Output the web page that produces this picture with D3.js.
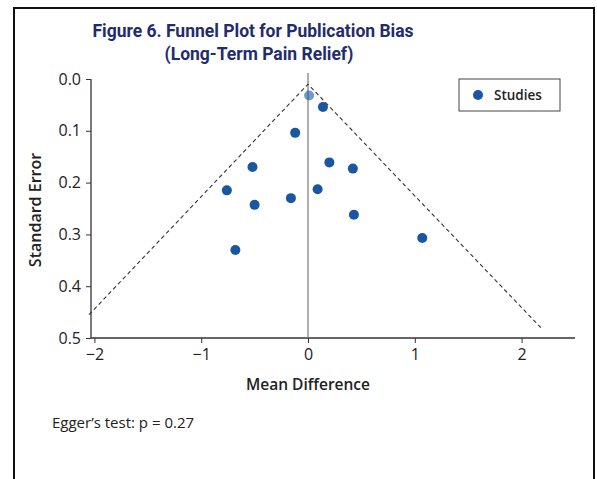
<!DOCTYPE html>
<html>
<head>
<meta charset="utf-8">
<script src="https://cdn.jsdelivr.net/npm/d3@7"></script>
<style>
  body { margin: 0; background: #fff; }
  text { font-family: "Open Sans", "Noto Sans", sans-serif; }
  .title { font-family: Roboto, "Noto Sans", sans-serif; }
</style>
</head>
<body>
<script>
// study effects (mean difference) and their standard errors
const meanDiff = [0.01, 0.14, -0.12, -0.52, -0.76, -0.50, -0.16, -0.68, 0.09, 0.20, 0.42, 0.43, 1.07];
const stdErr   = [0.032, 0.054, 0.104, 0.170, 0.215, 0.243, 0.230, 0.330, 0.213, 0.161, 0.173, 0.262, 0.307];

// funnel outline: left end, apex, right end
const funnelX = [-2.05, 0, 2.18];
const funnelY = [0.455, 0.01, 0.48];

const xTicks = [-2, -1, 0, 1, 2];
const yTicks = [0, 0.1, 0.2, 0.3, 0.4, 0.5];

const width = 597;
const height = 479;
const margin = {left: 91, right: 22, top: 79, bottom: 141};
const navy = '#1f2c6e';
const blue = '#1a57a3';

let svg = d3.select('body')
            .append('svg')
            .attr('width', width)
            .attr('height', height);

// outer frame
svg.append('rect')
   .attr('x', 14).attr('y', 8)
   .attr('width', 580).attr('height', 500)
   .attr('fill', 'none')
   .attr('stroke', '#111')
   .attr('stroke-width', 2);

let x = d3.scaleLinear()
          .domain([-2.06, 2.5])
          .range([margin.left - 3, width - margin.right]);

let y = d3.scaleLinear()
          .domain([0, 0.5])
          .range([margin.top, height - margin.bottom]);

// title
svg.append('text')
   .attr('class', 'title')
   .attr('x', 253).attr('y', 37)
   .attr('text-anchor', 'middle')
   .attr('fill', navy)
   .style('font-size', '17.5px')
   .style('font-weight', 'bold')
   .text('Figure 6. Funnel Plot for Publication Bias');
svg.append('text')
   .attr('class', 'title')
   .attr('x', 259).attr('y', 60)
   .attr('text-anchor', 'middle')
   .attr('fill', navy)
   .style('font-size', '17.5px')
   .style('font-weight', 'bold')
   .text('(Long-Term Pain Relief)');

// axes
let xAxis = svg.append('g')
   .attr('transform', 'translate(0,' + y(0.5) + ')')
   .call(d3.axisBottom(x).tickValues(xTicks).tickSize(5).tickPadding(6)
           .tickFormat(d => d < 0 ? '\u2212' + Math.abs(d) : d));

let yAxis = svg.append('g')
   .attr('transform', 'translate(' + margin.left + ',0)')
   .call(d3.axisLeft(y).tickValues(yTicks).tickSize(5).tickPadding(5).tickFormat(d3.format('.1f')));

[xAxis, yAxis].forEach(g => {
    g.select('.domain').attr('stroke', '#333').attr('stroke-width', 1.3);
    g.selectAll('.tick line').attr('stroke', '#333');
    g.selectAll('.tick text')
     .attr('fill', '#222')
     .style('font-size', '16px');
});
xAxis.select('.domain').attr('d', 'M' + margin.left + ',0H' + (width - margin.right));
yAxis.select('.domain').attr('d', 'M0,' + y(0) + 'V' + y(0.5));

// zero line
svg.append('line')
   .attr('x1', x(0)).attr('x2', x(0))
   .attr('y1', y(0) - 6).attr('y2', y(0.5))
   .attr('stroke', '#777')
   .attr('stroke-width', 1.2);

// funnel
let funnel = funnelX.map((d, i) => [d, funnelY[i]]);
svg.append('path')
   .datum(funnel)
   .attr('d', d3.line().x(d => x(d[0])).y(d => y(d[1])))
   .attr('fill', 'none')
   .attr('stroke', '#333')
   .attr('stroke-width', 1.1)
   .attr('stroke-dasharray', '4,3');

// studies
svg.selectAll('circle.study')
   .data(meanDiff)
   .enter()
   .append('circle')
   .attr('class', 'study')
   .attr('cx', d => x(d))
   .attr('cy', (d, i) => y(stdErr[i]))
   .attr('r', 5)
   .attr('fill', blue)
   .attr('opacity', (d, i) => i == 0 ? 0.6 : 1);

// axis labels
svg.append('text')
   .attr('x', x(0)).attr('y', 390)
   .attr('text-anchor', 'middle')
   .attr('fill', '#222')
   .style('font-size', '15.5px')
   .style('font-weight', '600')
   .text('Mean Difference');

svg.append('text')
   .attr('transform', 'translate(41,210) rotate(-90)')
   .attr('text-anchor', 'middle')
   .attr('fill', '#222')
   .style('font-size', '16px')
   .style('font-weight', '600')
   .text('Standard Error');

svg.append('text')
   .attr('x', 52).attr('y', 428)
   .attr('fill', '#222')
   .style('font-size', '15px')
   .text('Egger\u2019s test: p = 0.27');

// legend
let legend = svg.append('g').attr('transform', 'translate(459,79)');
legend.append('rect')
      .attr('width', 101).attr('height', 32)
      .attr('fill', '#fff')
      .attr('stroke', '#444')
      .attr('stroke-width', 1);
legend.append('circle')
      .attr('cx', 19).attr('cy', 16)
      .attr('r', 5)
      .attr('fill', blue);
legend.append('text')
      .attr('x', 35).attr('y', 21)
      .attr('fill', '#222')
      .style('font-size', '13.5px')
      .style('font-weight', '600')
      .text('Studies');
</script>
</body>
</html>
